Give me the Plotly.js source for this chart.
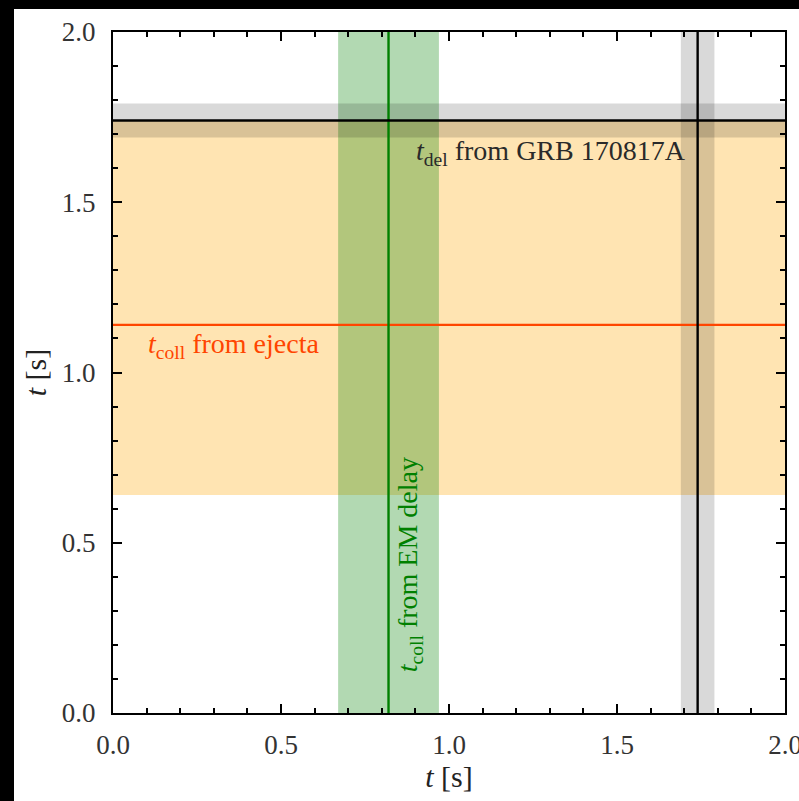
<!DOCTYPE html>
<html>
<head>
<meta charset="utf-8">
<script src="https://cdn.plot.ly/plotly-3.0.1.min.js"></script>
<style>
  html, body { margin: 0; padding: 0; background: #000; width: 799px; height: 801px; overflow: hidden; }
  #chart { position: absolute; left: 14px; top: 9px; width: 785px; height: 792px; background: #fff; }
</style>
</head>
<body>
<div id="chart"></div>
<script>
// ---- data (seconds) ----
const delayName = ["GRB 170817A"];
const delayValue = [1.74];
const delayLow = [1.69];
const delayHigh = [1.79];

const emName = ["EM delay"];
const emValue = [0.82];
const emLow = [0.67];
const emHigh = [0.97];

const ejectaName = ["ejecta"];
const ejectaValue = [1.14];
const ejectaLow = [0.64];
const ejectaHigh = [1.74];

const tickVals = [0.0, 0.5, 1.0, 1.5, 2.0];
const tickText = ["0.0", "0.5", "1.0", "1.5", "2.0"];

// ---- styling ----
const serif = "Liberation Serif, DejaVu Serif, serif";
const shapes = [];
// ejecta band (horizontal, orange)
shapes.push({type: "rect", xref: "paper", yref: "y", x0: 0, x1: 1, y0: ejectaLow[0], y1: ejectaHigh[0],
  fillcolor: "rgba(255,165,0,0.3)", line: {width: 0}, layer: "below"});
// EM delay band (vertical, green)
shapes.push({type: "rect", xref: "x", yref: "paper", x0: emLow[0], x1: emHigh[0], y0: 0, y1: 1,
  fillcolor: "rgba(0,128,0,0.3)", line: {width: 0}, layer: "below"});
// GRB delay bands (grey)
shapes.push({type: "rect", xref: "paper", yref: "y", x0: 0, x1: 1, y0: delayLow[0], y1: delayHigh[0],
  fillcolor: "rgba(0,0,0,0.15)", line: {width: 0}, layer: "below"});
shapes.push({type: "rect", xref: "x", yref: "paper", x0: delayLow[0], x1: delayHigh[0], y0: 0, y1: 1,
  fillcolor: "rgba(0,0,0,0.15)", line: {width: 0}, layer: "below"});
// lines
shapes.push({type: "line", xref: "paper", yref: "y", x0: 0, x1: 1, y0: ejectaValue[0], y1: ejectaValue[0],
  line: {color: "#ff4500", width: 2.4}, layer: "below"});
shapes.push({type: "line", xref: "x", yref: "paper", x0: emValue[0], x1: emValue[0], y0: 0, y1: 1,
  line: {color: "#008000", width: 2.4}, layer: "below"});
shapes.push({type: "line", xref: "paper", yref: "y", x0: 0, x1: 1, y0: delayValue[0], y1: delayValue[0],
  line: {color: "#000000", width: 2.4}, layer: "below"});
shapes.push({type: "line", xref: "x", yref: "paper", x0: delayValue[0], x1: delayValue[0], y0: 0, y1: 1,
  line: {color: "#000000", width: 2.4}, layer: "below"});

const annotations = [
  {x: 1.71, y: 1.645, xref: "x", yref: "y", xanchor: "right", yanchor: "middle", showarrow: false,
   text: "<i>t</i><sub>del</sub> from " + delayName[0], font: {family: serif, size: 28, color: "#2a2a2a"}},
  {x: 0.098, y: 1.08, xref: "x", yref: "y", xanchor: "left", yanchor: "middle", showarrow: false,
   text: "<i>t</i><sub>coll</sub> from " + ejectaName[0], font: {family: serif, size: 28, color: "#ff4500"}},
  {x: 0.885, y: 0.435, xref: "x", yref: "y", xanchor: "center", yanchor: "middle", showarrow: false, textangle: -90,
   text: "<i>t</i><sub>coll</sub> from " + emName[0], font: {family: serif, size: 28, color: "#008000"}}
];

const axisCommon = {
  range: [0, 2], tickmode: "array", tickvals: tickVals, ticktext: tickText,
  ticks: "inside", ticklen: 9, tickwidth: 2, tickcolor: "#000",
  minor: {dtick: 0.1, tick0: 0, ticks: "inside", ticklen: 5, tickwidth: 2, tickcolor: "#000"},
  showline: true, linecolor: "#000", linewidth: 2, mirror: "allticks",
  showgrid: false, zeroline: false, fixedrange: true,
  ticklabeloverflow: "allow",
  tickfont: {family: serif, size: 27, color: "#333"}
};

const layout = {
  width: 785, height: 792,
  margin: {l: 99, r: 14, t: 23, b: 88},
  paper_bgcolor: "#ffffff", plot_bgcolor: "#ffffff",
  showlegend: false,
  xaxis: Object.assign({}, axisCommon, {
    title: {text: "<i>t</i> [s]", font: {family: serif, size: 30, color: "#222"}, standoff: 4},
    ticklabelstandoff: 7
  }),
  yaxis: Object.assign({}, axisCommon, {
    title: {text: "<i>t</i> [s]", font: {family: serif, size: 30, color: "#222"}, standoff: 6},
    ticklabelstandoff: 10
  }),
  shapes: shapes,
  annotations: annotations
};

Plotly.newPlot("chart", [{x: [], y: [], type: "scatter", mode: "lines", hoverinfo: "skip"}], layout,
  {displayModeBar: false, staticPlot: true});
</script>
</body>
</html>
